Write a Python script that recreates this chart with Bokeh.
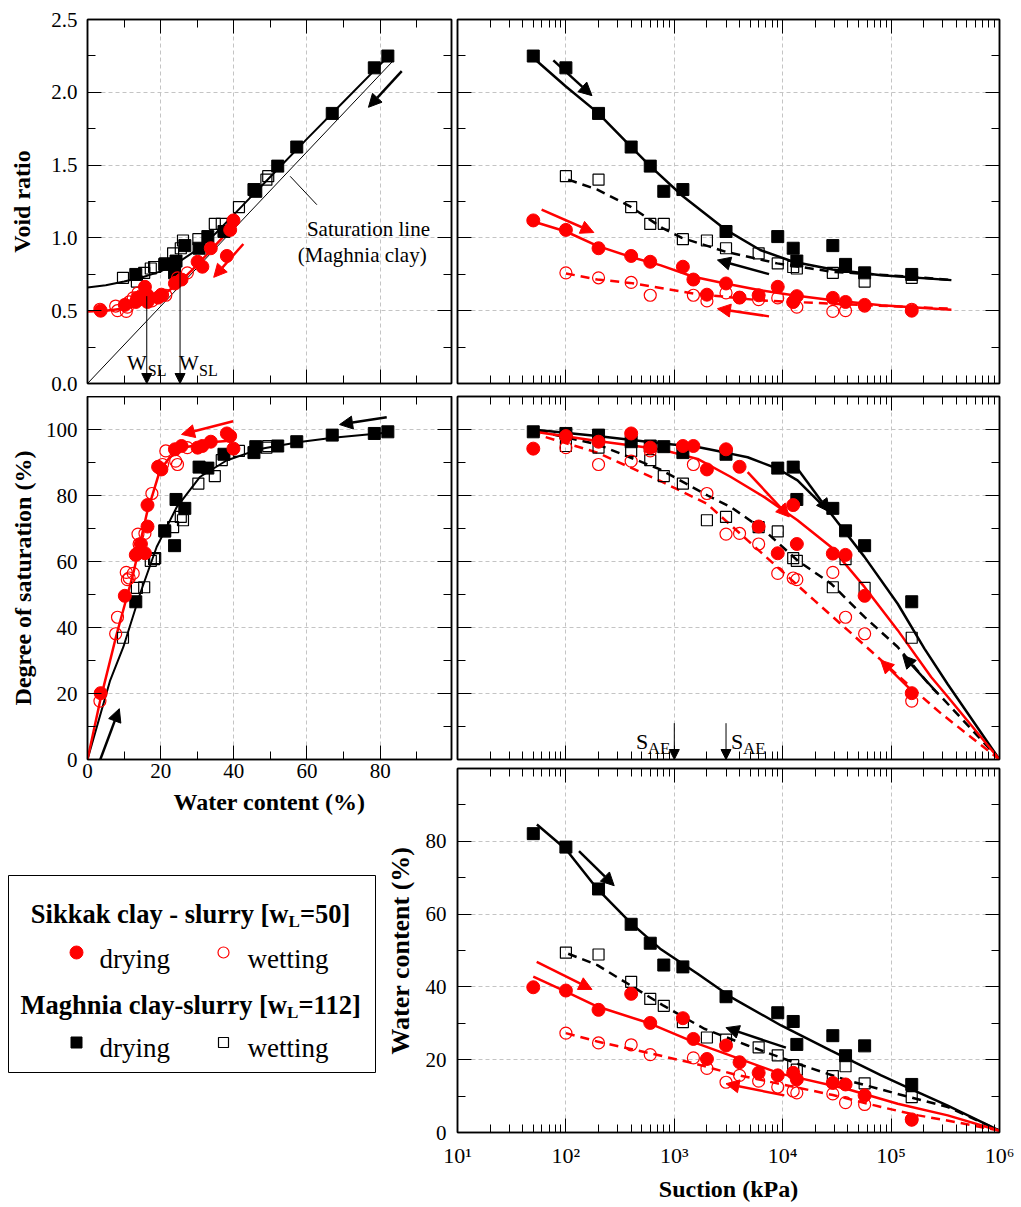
from bokeh.plotting import figure
from bokeh.models import (Range1d, LinearAxis, LogAxis, FixedTicker, PrintfTickFormatter,
                          CustomJSTickFormatter, Arrow, NormalHead, Label)
from bokeh.layouts import row, column
from bokeh.embed import file_html
from bokeh.resources import INLINE

FONT = "Liberation Serif"
RED = "#ff0000"
BLACK = "#000000"

# ---------------- measured points ----------------
# Maghnia clay - slurry, drying (filled squares)
md_suction = [50, 100, 200, 400, 600, 800, 1200, 3000, 9000, 12500, 13500, 29000, 38000, 57000, 155000]
md_w = [82.1, 78.4, 66.9, 57.2, 52.0, 46.0, 45.5, 37.3, 32.9, 30.5, 24.2, 26.6, 21.1, 23.8, 13.2]
md_e = [2.249, 2.168, 1.855, 1.624, 1.493, 1.320, 1.332, 1.044, 1.009, 0.929, 0.841, 0.947, 0.818, 0.760, 0.749]
md_sr = [99.3, 98.8, 98.3, 96.3, 95.0, 94.8, 93.0, 92.5, 88.3, 88.6, 78.8, 76.1, 69.3, 64.8, 47.8]

# Maghnia clay - slurry, wetting (open squares)
mw_suction = [100, 200, 400, 600, 800, 1200, 2000, 3000, 6000, 9000, 12500, 13500, 29000, 38000, 57000, 155000]
mw_w = [49.4, 48.9, 41.4, 36.7, 34.8, 30.3, 26.1, 25.5, 23.4, 21.2, 18.5, 17.3, 15.5, 18.2, 13.5, 9.7]
mw_e = [1.424, 1.400, 1.212, 1.097, 1.097, 0.991, 0.982, 0.929, 0.894, 0.825, 0.800, 0.790, 0.760, 0.800, 0.700, 0.726]
mw_sr = [95.0, 94.5, 93.5, 90.7, 85.9, 83.6, 72.5, 73.5, 70.4, 69.1, 61.0, 60.2, 52.2, 60.7, 52.0, 36.9]

# Sikkak clay - slurry, drying (filled circles)
sd_suction = [50, 100, 200, 400, 600, 1200, 1500, 2000, 3000, 4000, 6000, 9000, 12500, 13500, 29000, 38000, 57000, 155000]
sd_w = [39.9, 39.0, 33.7, 38.1, 30.1, 31.4, 25.7, 20.2, 23.9, 19.3, 16.4, 15.7, 16.4, 14.6, 13.6, 13.2, 10.2, 3.6]
sd_e = [1.120, 1.055, 0.929, 0.876, 0.836, 0.802, 0.714, 0.610, 0.687, 0.590, 0.606, 0.664, 0.560, 0.600, 0.588, 0.560, 0.540, 0.500]
sd_sr = [94.2, 98.0, 96.3, 98.8, 94.5, 95.0, 95.0, 87.9, 94.0, 88.7, 70.6, 62.5, 77.1, 65.3, 62.4, 62.0, 49.6, 20.1]

# Sikkak clay - slurry, wetting (open circles)
sw_suction = [100, 200, 400, 600, 1500, 2000, 3000, 4000, 6000, 9000, 12500, 13500, 29000, 38000, 57000, 155000]
sw_w = [27.3, 24.6, 24.1, 21.4, 20.5, 17.6, 13.8, 15.7, 14.1, 12.5, 11.4, 10.9, 10.6, 8.2, 7.7, 3.4]
sw_e = [0.760, 0.726, 0.694, 0.606, 0.606, 0.567, 0.622, 0.590, 0.576, 0.588, 0.560, 0.525, 0.495, 0.500, 0.532, 0.510]
sw_sr = [94.5, 89.4, 90.4, 93.5, 89.4, 80.6, 68.3, 68.5, 65.3, 56.4, 55.0, 54.5, 56.7, 43.1, 38.1, 17.7]

# ---------------- fitted curves ----------------
sat_w = [0, 83.5]
sat_e = [0, 2.215]
fitA_md_w = [0, 5, 10, 15, 20, 25, 30, 35, 40, 50, 60, 70, 80, 82.5]
fitA_md_e = [0.66, 0.675, 0.70, 0.73, 0.77, 0.835, 0.92, 1.03, 1.16, 1.42, 1.68, 1.935, 2.19, 2.255]
fitA_sd_w = [0, 5, 10, 15, 20, 25, 30, 35, 40, 41.5]
fitA_sd_e = [0.495, 0.50, 0.515, 0.545, 0.595, 0.69, 0.815, 0.95, 1.085, 1.13]

fitB_md_s = [53, 100, 195, 400, 600, 1200, 3000, 6200, 12500, 29000, 81000, 360000]
fitB_md_e = [2.22, 2.04, 1.862, 1.625, 1.493, 1.286, 1.055, 0.917, 0.836, 0.783, 0.744, 0.71]
fitB_mw_s = [105, 195, 390, 780, 1175, 2950, 8900, 29000, 155000, 360000]
fitB_mw_e = [1.40, 1.332, 1.217, 1.067, 1.0, 0.906, 0.825, 0.767, 0.733, 0.71]
fitB_sd_s = [50, 100, 195, 390, 740, 1500, 2950, 6200, 12500, 29000, 81000, 360000]
fitB_sd_e = [1.113, 1.044, 0.945, 0.871, 0.813, 0.733, 0.687, 0.64, 0.606, 0.571, 0.537, 0.507]
fitB_sw_s = [100, 195, 390, 1500, 6200, 29000, 360000]
fitB_sw_e = [0.756, 0.714, 0.691, 0.618, 0.571, 0.548, 0.514]

fitC_md_w = [0, 6.2, 9.8, 14.4, 18.9, 24.4, 30.7, 38, 47.1, 58, 67.1, 81.6]
fitC_md_sr = [0, 24, 34.1, 50.3, 64.4, 76.5, 85.6, 90.6, 94.1, 96.2, 97.5, 99.0]
fitC_sd_w = [0, 3.5, 8, 12.5, 16.2, 19.8, 22.5, 27.1, 34.4, 39.8]
fitC_sd_sr = [0, 18, 38.1, 56.3, 74.5, 87.6, 91.6, 94.7, 96.2, 96.7]

fitD_md_s = [49, 195, 741, 1640, 2950, 4750, 9000, 13700, 27900, 56800, 115000, 203000, 333000, 1000000]
fitD_md_sr = [100, 98, 95.8, 94.7, 93, 91.6, 88.1, 84.6, 74.5, 61.4, 47.2, 33.6, 22.8, 0]
fitD_mw_s = [56, 195, 741, 2030, 3330, 6780, 13700, 27900, 56800, 115000, 234000, 290000, 1000000]
fitD_mw_sr = [99.5, 95.5, 87.9, 80.0, 76.5, 69.4, 60.3, 53.3, 43.2, 34.1, 22.0, 19.0, 0]
fitD_sd_s = [48, 195, 741, 1640, 3330, 6780, 13700, 27900, 56800, 115000, 234000, 333000, 1000000]
fitD_sd_sr = [99.5, 96.5, 94, 91.1, 85.6, 79.5, 72.5, 64.4, 52.3, 39.2, 25.0, 19.0, 0]
fitD_sw_s = [48, 195, 741, 2000, 4750, 9660, 19600, 39800, 80900, 164000, 290000, 1000000]
fitD_sw_sr = [99, 93, 84.4, 77.5, 66.4, 57.3, 48.2, 39.2, 30.1, 21.0, 13.9, 0]

fitE_md_s = [54, 100, 195, 390, 740, 1640, 3330, 9660, 27900, 81000, 164000, 333000, 1000000]
fitE_md_w = [84.6, 77.8, 66.9, 57.8, 50.5, 43.6, 37.2, 29.4, 22.5, 15.7, 11.5, 7.4, 0.5]
fitE_mw_s = [105, 195, 390, 780, 1890, 4750, 13700, 39800, 115000, 333000, 1000000]
fitE_mw_w = [49.1, 46.0, 40.5, 35.0, 28.5, 23.9, 18.9, 14.3, 10.6, 7.0, 0.5]
fitE_sd_s = [50, 100, 195, 590, 1640, 9660, 38500, 115000, 333000, 1000000]
fitE_sd_w = [42.8, 38.7, 34.6, 30.0, 24.4, 16.1, 12.0, 7.9, 4.7, 0.5]
fitE_sw_s = [100, 195, 590, 1510, 3550, 8900, 29000, 81000, 178000, 389000, 1000000]
fitE_sw_w = [27.3, 25.0, 21.8, 19.0, 16.0, 13.5, 10.3, 7.0, 4.7, 2.9, 0.5]

# ---------------- direction arrows (annotations, data coordinates) ----------------
arrowsA = [(85.9, 2.145, 76.8, 1.897, BLACK), (42.6, 0.958, 34.5, 0.729, RED)]
arrowsB = [(76.6, 2.219, 174, 1.977, BLACK), (59.7, 1.194, 181, 1.037, RED),
           (7480, 0.751, 2500, 0.848, BLACK), (7480, 0.461, 2500, 0.514, RED)]
arrowsC = [(39.8, 102.5, 25.7, 98.5, RED), (81.8, 103.7, 68.9, 101.5, BLACK),
           (3.5, 0.0, 8.7, 15.4, BLACK)]
arrowsD = [(13700, 88.1, 27000, 75.0, BLACK), (4750, 87.1, 11500, 73.5, RED),
           (270000, 20.0, 128000, 31.6, BLACK), (153000, 21.0, 80000, 30.1, RED)]
arrowsE = [(132, 77.3, 279, 67.8, BLACK), (53.8, 46.9, 174, 39.3, RED),
           (10700, 23.3, 3000, 28.8, BLACK), (10350, 10.2, 3000, 13.4, RED)]
wsl_w = [16.2, 25.3]          # shrinkage-limit markers (water content)
wsl_top = [0.60, 0.82]
sae_s = [1000, 3000]          # air-entry suction markers

# ---------------- tickers ----------------
LOG_MAJOR = [10, 100, 1000, 10000, 100000, 1000000]
LOG_MINOR = [m * 10 ** k for k in range(1, 6) for m in range(2, 10)]
W_MAJOR, W_MINOR = [0, 20, 40, 60, 80], [10, 30, 50, 70, 90]
E_MAJOR = [0.0, 0.5, 1.0, 1.5, 2.0, 2.5]
E_MINOR = [0.25, 0.75, 1.25, 1.75, 2.25]
S_MAJOR, S_MINOR = [0, 20, 40, 60, 80, 100], [10, 30, 50, 70, 90, 110]
WC_MAJOR, WC_MINOR = [0, 20, 40, 60, 80], [10, 30, 50, 70, 90]


def style_axis(ax, show, size="21px", standoff=8, label=None, label_size="24px", label_standoff=8):
    ax.axis_line_color = BLACK
    ax.axis_line_width = 1.5
    ax.major_tick_in = 14
    ax.major_tick_out = 0
    ax.minor_tick_in = 8
    ax.minor_tick_out = 0
    ax.major_tick_line_color = BLACK
    ax.minor_tick_line_color = BLACK
    ax.major_tick_line_width = 1
    ax.minor_tick_line_width = 1
    ax.major_label_text_font = FONT
    ax.major_label_text_color = BLACK
    ax.major_label_text_font_size = size
    if show:
        ax.major_label_standoff = standoff
    else:
        ax.major_label_text_alpha = 0
        ax.major_label_standoff = 0
    if label:
        ax.axis_label = label
        ax.axis_label_text_font = FONT
        ax.axis_label_text_font_size = label_size
        ax.axis_label_text_font_style = "bold"
        ax.axis_label_text_color = BLACK
        ax.axis_label_standoff = label_standoff


def make_panel(xr, yr, log_x, xt, yt, fw, fh, borders):
    left, right, top, bottom = borders
    p = figure(x_range=Range1d(*xr), y_range=Range1d(*yr),
               x_axis_type="log" if log_x else "linear",
               frame_width=fw, frame_height=fh,
               min_border_left=left, min_border_right=right,
               min_border_top=top, min_border_bottom=bottom,
               output_backend="svg", toolbar_location=None)
    p.background_fill_color = "white"
    p.border_fill_color = None
    p.outline_line_color = BLACK
    p.outline_line_width = 1.5
    xa, ya = p.below[0], p.left[0]
    xticker = FixedTicker(ticks=xt[0], minor_ticks=xt[1])
    yticker = FixedTicker(ticks=yt[0], minor_ticks=yt[1])
    xa.ticker = xticker
    ya.ticker = yticker
    p.xgrid[0].ticker = xticker
    p.ygrid[0].ticker = yticker
    for g in (p.xgrid[0], p.ygrid[0]):
        g.grid_line_color = "#c4c4c4"
        g.grid_line_dash = "4 3"
        g.grid_line_width = 1
    top_ax = (LogAxis if log_x else LinearAxis)(ticker=xticker)
    right_ax = LinearAxis(ticker=yticker)
    style_axis(top_ax, False)
    style_axis(right_ax, False)
    p.add_layout(top_ax, "above")
    p.add_layout(right_ax, "right")
    return p, xa, ya


def draw_points(p, xs_list, ys_list):
    (xmd, xmw, xsd, xsw), (ymd, ymw, ysd, ysw) = xs_list, ys_list
    p.scatter(xmd, ymd, marker="square", size=12, fill_color=BLACK, line_color=BLACK)
    p.scatter(xmw, ymw, marker="square", size=11, fill_color=None, line_color=BLACK, line_width=1.2)
    p.scatter(xsd, ysd, marker="circle", size=13, fill_color=RED, line_color=RED)
    p.scatter(xsw, ysw, marker="circle", size=12, fill_color=None, line_color=RED, line_width=1.2)


def draw_arrows(p, arrows, size=13, width=2.5):
    for x0, y0, x1, y1, c in arrows:
        p.add_layout(Arrow(end=NormalHead(size=size, fill_color=c, line_color=c),
                           x_start=x0, y_start=y0, x_end=x1, y_end=y1,
                           line_color=c, line_width=width))


def label(p, x, y, text, size, align="left", dx=0, style="normal"):
    p.add_layout(Label(x=x, y=y, text=text, text_font=FONT, text_font_size=size,
                       text_font_style=style, text_align=align, text_baseline="alphabetic",
                       x_offset=dx, text_color=BLACK))


DASH = "9 6"
RW = 542   # frame width of the suction panels

# ---------- Panel A: void ratio vs water content ----------
A, Ax, Ay = make_panel((0, 99.5), (0, 2.5), False, (W_MAJOR, W_MINOR), (E_MAJOR, E_MINOR), 364, 364, (87, 3, 19, 13))
style_axis(Ax, False)
style_axis(Ay, True, standoff=10, label="Void ratio", label_standoff=13)
Ay.formatter = PrintfTickFormatter(format="%.1f")
A.line(sat_w, sat_e, line_color=BLACK, line_width=1)
A.line(fitA_md_w, fitA_md_e, line_color=BLACK, line_width=2)
A.line(fitA_sd_w, fitA_sd_e, line_color=RED, line_width=2.5)
draw_points(A, (md_w, mw_w, sd_w, sw_w), (md_e, mw_e, sd_e, sw_e))
draw_arrows(A, arrowsA)
for xw, yt in zip(wsl_w, wsl_top):
    A.add_layout(Arrow(end=NormalHead(size=10, fill_color=BLACK, line_color=BLACK),
                       x_start=xw, y_start=yt, x_end=xw, y_end=0.0, line_color=BLACK, line_width=1))
label(A, wsl_w[0], 0.144, "W", "21px", align="right", dx=0)
label(A, wsl_w[0], 0.092, "SL", "16px", align="left", dx=1)
label(A, wsl_w[1], 0.144, "W", "21px", align="left", dx=-1)
label(A, wsl_w[1], 0.092, "SL", "16px", align="left", dx=19)
A.add_layout(Arrow(end=None, x_start=62.7, y_start=1.228, x_end=55.4, y_end=1.423,
                   line_color=BLACK, line_width=1))
label(A, 76.8, 1.063, "Saturation line", "21px", align="center")
label(A, 75.1, 0.885, "(Maghnia clay)", "21px", align="center")

# ---------- Panel C: degree of saturation vs water content ----------
C, Cx, Cy = make_panel((0, 99.5), (0, 110), False, (W_MAJOR, W_MINOR), (S_MAJOR, S_MINOR), 364, 363, (87, 3, 0, 100))
style_axis(Cx, True, standoff=4, label="Water content (%)", label_standoff=8)
style_axis(Cy, True, standoff=10, label="Degree of saturation (%)", label_standoff=7)
C.line(fitC_md_w, fitC_md_sr, line_color=BLACK, line_width=2)
C.line(fitC_sd_w, fitC_sd_sr, line_color=RED, line_width=2.5)
draw_points(C, (md_w, mw_w, sd_w, sw_w), (md_sr, mw_sr, sd_sr, sw_sr))
draw_arrows(C, arrowsC)

# ---------- Panel B: void ratio vs suction ----------
B, Bx, By = make_panel((10, 1e6), (0, 2.5), True, (LOG_MAJOR, LOG_MINOR), (E_MAJOR, E_MINOR), RW, 364, (80, 18, 19, 9))
style_axis(Bx, False)
style_axis(By, False)
B.line(fitB_md_s, fitB_md_e, line_color=BLACK, line_width=2.5)
B.line(fitB_mw_s, fitB_mw_e, line_color=BLACK, line_width=2.5, line_dash=DASH)
B.line(fitB_sd_s, fitB_sd_e, line_color=RED, line_width=2.5)
B.line(fitB_sw_s, fitB_sw_e, line_color=RED, line_width=2.5, line_dash=DASH)
draw_points(B, (md_suction, mw_suction, sd_suction, sw_suction), (md_e, mw_e, sd_e, sw_e))
draw_arrows(B, arrowsB)

# ---------- Panel D: degree of saturation vs suction ----------
D, Dx, Dy = make_panel((10, 1e6), (0, 110), True, (LOG_MAJOR, LOG_MINOR), (S_MAJOR, S_MINOR), RW, 363, (80, 18, 4, 4))
style_axis(Dx, False)
style_axis(Dy, False)
D.line(fitD_md_s, fitD_md_sr, line_color=BLACK, line_width=2.5)
D.line(fitD_mw_s, fitD_mw_sr, line_color=BLACK, line_width=2.5, line_dash=DASH)
D.line(fitD_sd_s, fitD_sd_sr, line_color=RED, line_width=2.5)
D.line(fitD_sw_s, fitD_sw_sr, line_color=RED, line_width=2.5, line_dash=DASH)
draw_points(D, (md_suction, mw_suction, sd_suction, sw_suction), (md_sr, mw_sr, sd_sr, sw_sr))
draw_arrows(D, arrowsD)
for xs in sae_s:
    D.add_layout(Arrow(end=NormalHead(size=10, fill_color=BLACK, line_color=BLACK),
                       x_start=xs, y_start=11.0, x_end=xs, y_end=0.0, line_color=BLACK, line_width=1))
label(D, sae_s[0], 5.5, "S", "22px", align="right", dx=-26)
label(D, sae_s[0], 3.2, "AE", "17px", align="right", dx=-4)
label(D, sae_s[1], 5.5, "S", "22px", align="left", dx=5)
label(D, sae_s[1], 3.2, "AE", "17px", align="left", dx=17)

# ---------- Panel E: water content vs suction ----------
E, Ex, Ey = make_panel((10, 1e6), (0, 100), True, (LOG_MAJOR, LOG_MINOR), (WC_MAJOR, WC_MINOR), RW, 364, (80, 18, 5, 70))
style_axis(Ex, True, size="22px", standoff=10, label="Suction (kPa)", label_size="24px", label_standoff=5)
style_axis(Ey, True, standoff=11, label="Water content (%)", label_size="26px", label_standoff=8)
Ex.formatter = CustomJSTickFormatter(code="""
    const sup = {1: '\u00b9', 2: '\u00b2', 3: '\u00b3', 4: '\u2074', 5: '\u2075', 6: '\u2076'};
    return '10' + sup[Math.round(Math.log10(tick))];
""")
E.line(fitE_md_s, fitE_md_w, line_color=BLACK, line_width=2.5)
E.line(fitE_mw_s, fitE_mw_w, line_color=BLACK, line_width=2.5, line_dash=DASH)
E.line(fitE_sd_s, fitE_sd_w, line_color=RED, line_width=2.5)
E.line(fitE_sw_s, fitE_sw_w, line_color=RED, line_width=2.5, line_dash=DASH)
draw_points(E, (md_suction, mw_suction, sd_suction, sw_suction), (md_w, mw_w, sd_w, sw_w))
draw_arrows(E, arrowsE)

# ---------- Legend box ----------
L = figure(x_range=Range1d(0, 368), y_range=Range1d(0, 198), frame_width=368, frame_height=198,
           min_border_left=8, min_border_right=0, min_border_top=16, min_border_bottom=0,
           x_axis_location=None, y_axis_location=None,
           output_backend="svg", toolbar_location=None)
L.grid.visible = False
L.border_fill_color = None
L.outline_line_color = BLACK
L.outline_line_width = 1
HEAD = "26.5px"
label(L, 280, 160, "Sikkak clay - slurry [w", HEAD, align="right", style="bold")
label(L, 280, 152, "L", "17px", align="left", style="bold")
label(L, 291.5, 160, "=50]", HEAD, align="left", style="bold")
label(L, 278.5, 69, "Maghnia clay-slurry [w", HEAD, align="right", style="bold")
label(L, 278.5, 61, "L", "17px", align="left", style="bold")
label(L, 290, 69, "=112]", HEAD, align="left", style="bold")
L.scatter([68], [121], marker="circle", size=13, fill_color=RED, line_color=RED)
L.scatter([215], [121], marker="circle", size=11, fill_color=None, line_color=RED, line_width=1.2)
L.scatter([68], [31], marker="square", size=11, fill_color=BLACK, line_color=BLACK)
L.scatter([215], [31], marker="square", size=10, fill_color=None, line_color=BLACK, line_width=1.2)
label(L, 91, 115, "drying", "27px")
label(L, 239, 115, "wetting", "27px")
label(L, 91, 26, "drying", "27px")
label(L, 239, 26, "wetting", "27px")

left_col = column(A, C, column(L))
right_col = column(B, D, E)
right_col.margin = (0, 0, 0, -77)
layout = row(left_col, right_col)
open("out.html", "w").write(file_html(layout, INLINE))
